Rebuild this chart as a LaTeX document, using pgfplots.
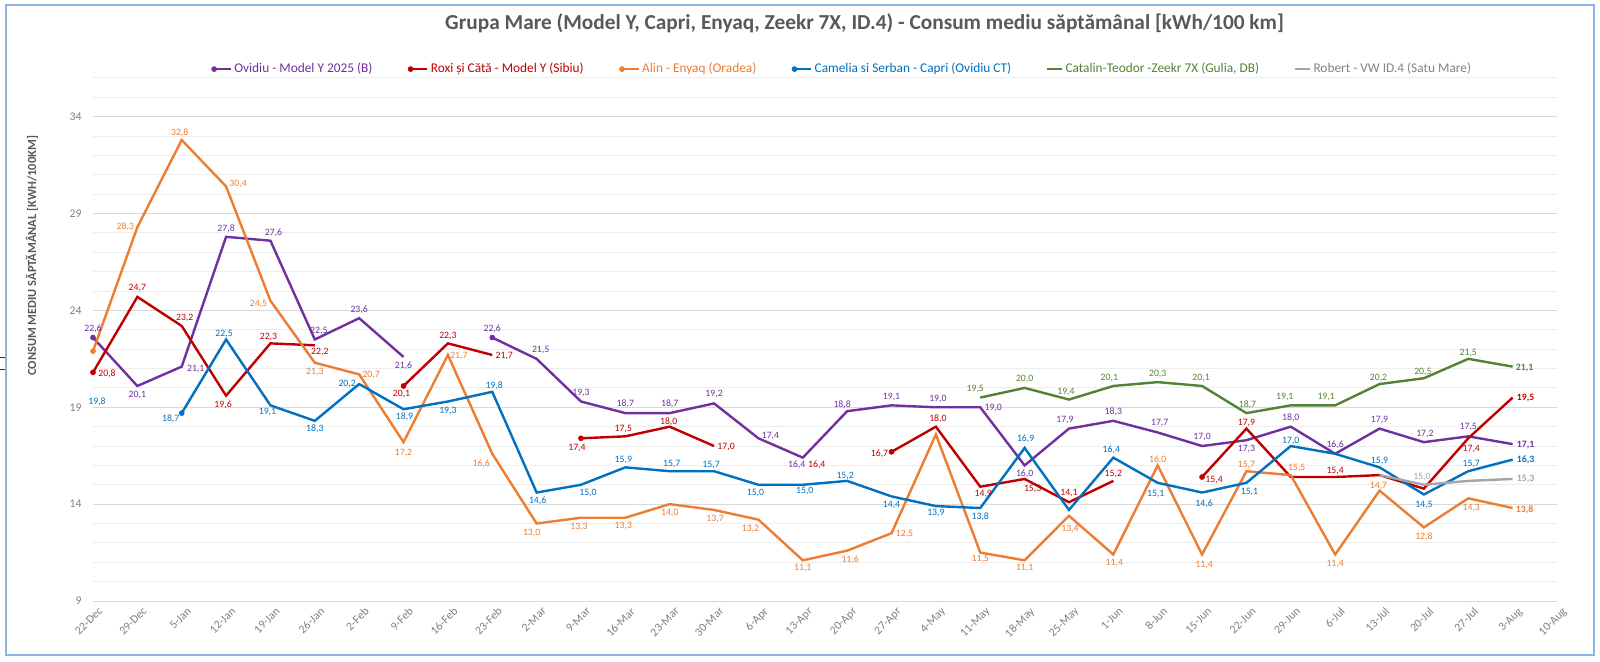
\documentclass[border=0pt]{standalone}
\usepackage{pgfplots}
\pgfplotsset{compat=1.18}
\usepackage{pgfplotstable}
\usepackage{fontspec}
\setmainfont{Carlito}

\definecolor{cPur}{HTML}{7030A0}
\definecolor{cRed}{HTML}{C00000}
\definecolor{cOra}{HTML}{ED7D31}
\definecolor{cBlu}{HTML}{0070C0}
\definecolor{cGrn}{HTML}{548235}
\definecolor{cGry}{HTML}{A5A5A5}
\definecolor{txt}{HTML}{595959}
\definecolor{tick}{HTML}{7F7F7F}
\definecolor{frm}{HTML}{8DB4E2}
\definecolor{majg}{HTML}{D9D9D9}
\definecolor{ming}{HTML}{EDEDED}
\newcommand\lbl{\fontsize{7.3}{8.5}\selectfont}

% columns: x y lab dx dy (dx,dy = label offset in px)
\pgfplotstableread{
x y lab dx dy
0 22.6 {22,6} 0 9
1 20.1 {20,1} 0 -9
2 21.1 {21,1} 14 -2
3 27.8 {27,8} 0 8
4 27.6 {27,6} 3 8
5 22.5 {22,5} 4 9
6 23.6 {23,6} 0 8
7 21.6 {21,6} 0 -9
8 nan {} 0 0
9 22.6 {22,6} 0 9
10 21.5 {21,5} 4 9
11 19.3 {19,3} 0 9
12 18.7 {18,7} 0 9
13 18.7 {18,7} 0 9
14 19.2 {19,2} 0 9
15 17.4 {17,4} 12 2
16 16.4 {16,4} -6 -7
17 18.8 {18,8} -5 6
18 19.1 {19,1} 0 8
19 19.0 {19,0} 2 8
20 19.0 {19,0} 13 -1
21 16.0 {16,0} 0 -8
22 17.9 {17,9} -4 9
23 18.3 {18,3} 0 9
24 17.7 {17,7} 2 9
25 17.0 {17,0} 0 9
26 17.3 {17,3} 0 -9
27 18.0 {18,0} 0 9
28 16.6 {16,6} 0 9
29 17.9 {17,9} 0 9
30 17.2 {17,2} 1 8
31 17.5 {17,5} 0 9
32 17.1 {\textbf{17,1}} 13 -1
}\tPur

\pgfplotstableread{
x y lab dx dy
0 20.8 {20,8} 14 -1
1 24.7 {24,7} 0 9
2 23.2 {23,2} 3 8
3 19.6 {19,6} -3 -9
4 22.3 {22,3} -2 6
5 22.2 {22,2} 5 -7
6 nan {} 0 0
7 20.1 {20,1} -2 -8
8 22.3 {22,3} 0 7
9 21.7 {21,7} 12 -1
10 nan {} 0 0
11 17.4 {17,4} -4 -10
12 17.5 {17,5} -2 7
13 18.0 {18,0} -1 5
14 17.0 {17,0} 12 -1
15 nan {} 0 0
16 16.4 {16,4} 14 -7
17 nan {} 0 0
18 16.7 {16,7} -12 -2
19 18.0 {18,0} 2 8
20 14.9 {14,9} 3 -7
21 15.3 {15,3} 8 -10
22 14.1 {14,1} 0 9
23 15.2 {15,2} 0 7
24 nan {} 0 0
25 15.4 {15,4} 12 -3
26 17.9 {17,9} 0 6
27 15.4 {} 0 0
28 15.4 {15,4} 0 6
29 15.5 {} 0 0
30 14.8 {} 0 0
31 17.4 {17,4} 3 -11
32 19.5 {\textbf{19,5}} 13 0
}\tRed

\pgfplotstableread{
x y lab dx dy
0 21.9 {} 0 0
1 28.3 {28,3} -12 0
2 32.8 {32,8} -2 7
3 30.4 {30,4} 12 3
4 24.5 {24,5} -12 -3
5 21.3 {21,3} 0 -9
6 20.7 {20,7} 12 -1
7 17.2 {17,2} 0 -11
8 21.7 {21,7} 11 -1
9 16.6 {16,6} -11 -10
10 13.0 {13,0} -5 -9
11 13.3 {13,3} -2 -9
12 13.3 {13,3} -2 -8
13 14.0 {14,0} 0 -9
14 13.7 {13,7} 1 -9
15 13.2 {13,2} -8 -9
16 11.1 {11,1} 0 -8
17 11.6 {11,6} 3 -9
18 12.5 {12,5} 13 -1
19 17.6 {} 0 0
20 11.5 {11,5} 0 -6
21 11.1 {11,1} 0 -8
22 13.4 {13,4} 1 -13
23 11.4 {11,4} 1 -8
24 16.0 {16,0} 0 6
25 11.4 {11,4} 2 -10
26 15.7 {15,7} 0 6
27 15.5 {15,5} 6 7
28 11.4 {11,4} 0 -9
29 14.7 {14,7} -1 5
30 12.8 {12,8} 0 -9
31 14.3 {14,3} 3 -10
32 13.8 {\textbf{13,8}} 12 -2
}\tOra

\pgfplotstableread{
x y lab dx dy
0 19.8 {19,8} 4 -10
1 nan {} 0 0
2 18.7 {18,7} -11 -6
3 22.5 {22,5} -2 6
4 19.1 {19,1} -3 -7
5 18.3 {18,3} 0 -8
6 20.2 {20,2} -12 0
7 18.9 {18,9} 1 -8
8 19.3 {19,3} 0 -9
9 19.8 {19,8} 2 6
10 14.6 {14,6} 1 -8
11 15.0 {15,0} 7 -8
12 15.9 {15,9} -2 7
13 15.7 {15,7} 2 7
14 15.7 {15,7} -3 6
15 15.0 {15,0} -3 -8
16 15.0 {15,0} 2 -6
17 15.2 {15,2} -2 5
18 14.4 {14,4} 0 -9
19 13.9 {13,9} 0 -7
20 13.8 {13,8} 0 -9
21 16.9 {16,9} 1 9
22 13.7 {} 0 0
23 16.4 {16,4} -2 8
24 15.1 {15,1} -2 -11
25 14.6 {14,6} 2 -11
26 15.1 {15,1} 3 -9
27 17.0 {17,0} 0 5
28 16.6 {} 0 0
29 15.9 {15,9} 0 6
30 14.5 {14,5} 0 -11
31 15.7 {15,7} 3 7
32 16.3 {\textbf{16,3}} 13 0
}\tBlu

\pgfplotstableread{
x y lab dx dy
20 19.5 {19,5} -5 9
21 20.0 {20,0} 0 9
22 19.4 {19,4} -3 8
23 20.1 {20,1} -4 8
24 20.3 {20,3} 0 8
25 20.1 {20,1} -1 8
26 18.7 {18,7} 1 8
27 19.1 {19,1} -6 8
28 19.1 {19,1} -9 8
29 20.2 {20,2} -1 6
30 20.5 {20,5} -1 6
31 21.5 {21,5} 0 6
32 21.1 {\textbf{21,1}} 12 -1
}\tGrn

\pgfplotstableread{
x y lab dx dy
29 15.5 {} 0 0
30 15.0 {15,0} -2 8
31 15.2 {} 0 0
32 15.3 {\textbf{15,3}} 13 0
}\tGry

\pgfplotsset{
  ser/.style={color=#1, line width=1.8pt, mark=none,
    nodes near coords, point meta=explicit symbolic,
    visualization depends on={\thisrow{dx} \as \ldx},
    visualization depends on={\thisrow{dy} \as \ldy},
    nodes near coords style={anchor=center, inner sep=0pt,
      xshift={\ldx*0.75pt}, yshift={\ldy*0.75pt}, text=#1, font=\lbl}},
  mk/.style={only marks, mark=*, mark size=1.9pt, color=#1, forget plot},
}

\begin{document}
\begin{tikzpicture}
\useasboundingbox (0,0) rectangle (1200pt,495.75pt);
\fill[white] (0,0) rectangle (1200pt,495.75pt);
\draw[color=frm, line width=1.5pt] (4.5pt,4.5pt) rectangle (1195.5pt,492pt);
\draw[color=green!35!black, line width=0.7pt] (0pt,228pt) -- (4pt,228pt);
\draw[color=green!35!black, line width=0.7pt] (0pt,219pt) -- (4pt,219pt);
\begin{axis}[
  at={(69.75pt,45pt)}, anchor=south west,
  scale only axis, width=1098pt, height=392.25pt,
  xmin=0, xmax=33, ymin=9, ymax=36,
  clip=false,
  unbounded coords=jump,
  axis line style={draw=none},
  major tick length=0pt, minor tick length=0pt,
  xtick={0,...,33},
  xticklabels={22-Dec,29-Dec,5-Jan,12-Jan,19-Jan,26-Jan,2-Feb,9-Feb,16-Feb,23-Feb,2-Mar,9-Mar,16-Mar,23-Mar,30-Mar,6-Apr,13-Apr,20-Apr,27-Apr,4-May,11-May,18-May,25-May,1-Jun,8-Jun,15-Jun,22-Jun,29-Jun,6-Jul,13-Jul,20-Jul,27-Jul,3-Aug,10-Aug},
  xticklabel style={rotate=45, anchor=north east, font=\fontsize{8.8}{10}\selectfont, text=tick, yshift=-2pt, xshift=3pt},
  ytick={9,14,...,34},
  minor ytick={9,...,36},
  ymajorgrids, yminorgrids,
  major grid style={color=majg, line width=0.75pt},
  minor grid style={color=ming, line width=0.75pt},
  yticklabel style={font=\fontsize{8.8}{10}\selectfont, text=tick, xshift=-5pt},
  /pgf/number format/assume math mode=true,
  ylabel={CONSUM MEDIU SĂPTĂMÂNAL [KWH/100KM]},
  every axis y label/.style={at={(axis description cs:-0.0417,0.66)}, rotate=90, anchor=center,
     font=\bfseries\fontsize{9.3}{11}\selectfont, text=txt},
  title={Grupa Mare (Model Y, Capri, Enyaq, Zeekr 7X, ID.4) - Consum mediu săptămânal [kWh/100 km]},
  title style={at={(axis description cs:0.527,1.0765)}, anchor=base,
     font=\bfseries\fontsize{16}{19}\selectfont, text=txt},
  legend style={at={(axis description cs:0.512,1.017)}, anchor=center,
     draw=none, fill=none, inner sep=0pt,
     font=\fontsize{10}{12}\selectfont,
     /tikz/every even column/.append style={column sep=24.5pt}},
  legend columns=6,
]
\addplot[ser=cPur, forget plot] table[x=x, y=y, meta=lab] {\tPur};
\addplot[ser=cRed, forget plot] table[x=x, y=y, meta=lab] {\tRed};
\addplot[ser=cOra, forget plot] table[x=x, y=y, meta=lab] {\tOra};
\addplot[ser=cBlu, forget plot] table[x=x, y=y, meta=lab] {\tBlu};
\addplot[ser=cGrn, forget plot] table[x=x, y=y, meta=lab] {\tGrn};
\addplot[ser=cGry, forget plot] table[x=x, y=y, meta=lab] {\tGry};
% markers at the first point of each segment
\addplot[mk=cPur] coordinates {(0,22.6) (9,22.6)};
\addplot[mk=cRed] coordinates {(0,20.8) (7,20.1) (11,17.4) (18,16.7) (25,15.4)};
\addplot[mk=cOra] coordinates {(0,21.9)};
\addplot[mk=cBlu] coordinates {(2,18.7)};
% legend
\addlegendimage{legend image code/.code={\draw[cPur,line width=1.3pt] (0pt,0pt)--(12.5pt,0pt); \fill[cPur] (0pt,0pt) circle (1.9pt);}}
\addlegendimage{legend image code/.code={\draw[cRed,line width=1.3pt] (0pt,0pt)--(12.5pt,0pt); \fill[cRed] (0pt,0pt) circle (1.9pt);}}
\addlegendimage{legend image code/.code={\draw[cOra,line width=1.3pt] (0pt,0pt)--(12.5pt,0pt); \fill[cOra] (0pt,0pt) circle (1.9pt);}}
\addlegendimage{legend image code/.code={\draw[cBlu,line width=1.3pt] (0pt,0pt)--(12.5pt,0pt); \fill[cBlu] (0pt,0pt) circle (1.9pt);}}
\addlegendimage{legend image code/.code={\draw[cGrn,line width=1.3pt] (0pt,0pt)--(11pt,0pt);}}
\addlegendimage{legend image code/.code={\draw[cGry,line width=1.3pt] (0pt,0pt)--(11pt,0pt);}}
\legend{\textcolor{cPur}{Ovidiu - Model Y 2025 (B)},
        \textcolor{cRed}{Roxi și Cătă - Model Y (Sibiu)},
        \textcolor{cOra}{Alin - Enyaq (Oradea)},
        \textcolor{cBlu}{Camelia si Serban - Capri (Ovidiu CT)},
        \textcolor{cGrn}{Catalin-Teodor -Zeekr 7X (Gulia, DB)},
        \textcolor{cGry!80!black}{Robert - VW ID.4 (Satu Mare)}}
\end{axis}
\end{tikzpicture}
\end{document}
